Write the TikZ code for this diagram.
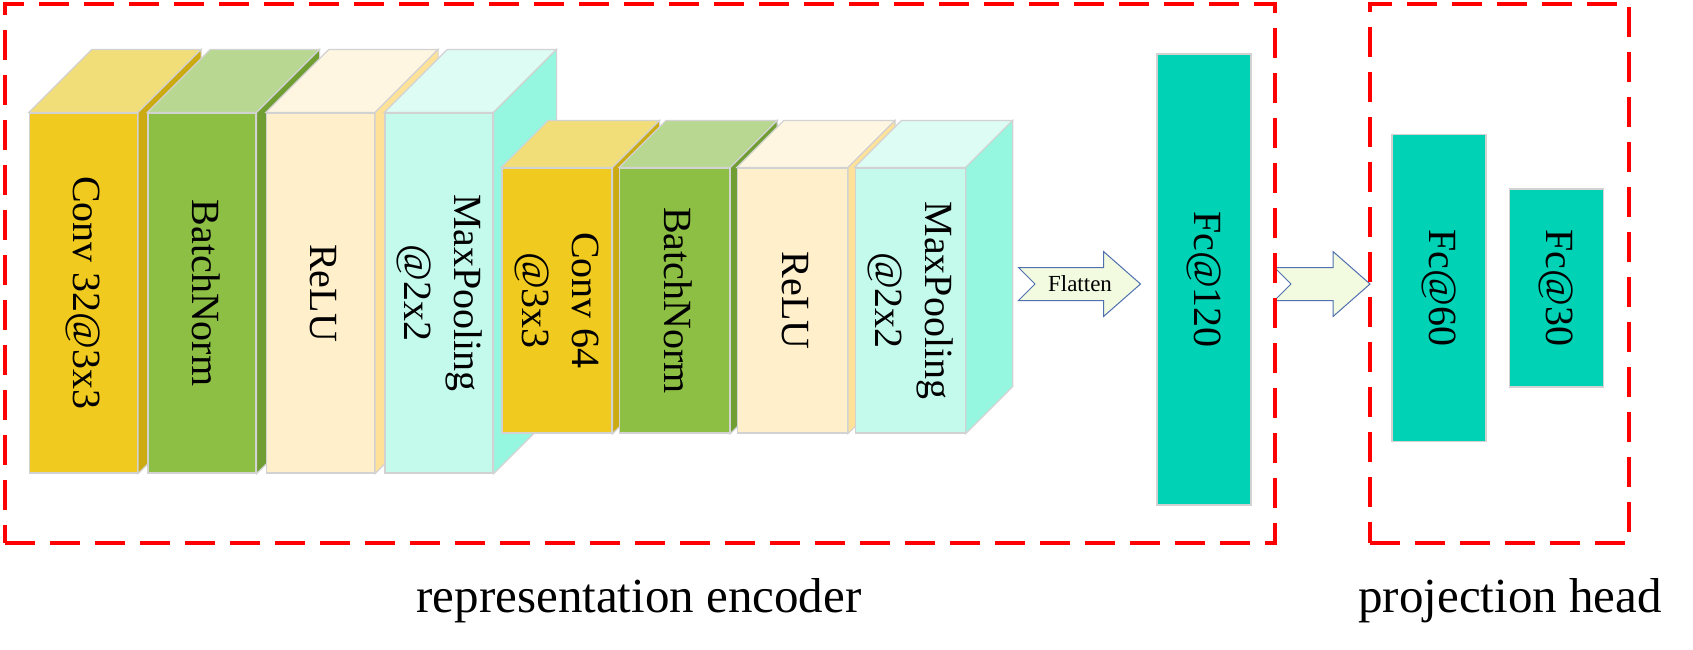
\documentclass[tikz,border=0pt]{standalone}
\usepackage{fontspec}
\setmainfont{Liberation Serif}
\usepackage{tikz}
\usetikzlibrary{arrows}

\definecolor{convfront}{HTML}{F0CA1F}
\definecolor{convtop}{HTML}{F2DE78}
\definecolor{convside}{HTML}{CCAA12}
\definecolor{bnfront}{HTML}{8DBF44}
\definecolor{bntop}{HTML}{B8D891}
\definecolor{bnside}{HTML}{709E32}
\definecolor{relufront}{HTML}{FFEFCA}
\definecolor{relutop}{HTML}{FFF6E2}
\definecolor{reluside}{HTML}{FFE198}
\definecolor{poolfront}{HTML}{C4FAEC}
\definecolor{pooltop}{HTML}{DDFCF3}
\definecolor{poolside}{HTML}{95F7E0}
\definecolor{fcteal}{HTML}{00D2B6}
\definecolor{arrowfill}{HTML}{F2FBE0}
\definecolor{arrowline}{HTML}{4F6FAF}
\definecolor{edgegray}{HTML}{D2D2D2}

\tikzset{line join=miter}

\newcommand{\vtext}[1]{\rotatebox{-90}{\begin{tabular}{@{}c@{}}#1\end{tabular}}}
\newcommand{\blockfaces}[4]{%
  \filldraw[face,fill=#3] (#1.north west) -- ++(#2,-#2)
      -- ([shift={(#2,-#2)}]#1.north east) -- (#1.north east) -- cycle;
  \filldraw[face,fill=#4] (#1.north east) -- ++(#2,-#2)
      -- ([shift={(#2,-#2)}]#1.south east) -- (#1.south east) -- cycle;}
\newcommand{\flatarrow}[2]{%
  \filldraw[bigarrow] (#1) -- ++(-16.5,-16.5) -- ++(#2,0) -- ++(0,-16)
      -- ++(37,32.5) -- ++(-37,32.5) -- ++(0,-16) -- ++(-#2,0) -- cycle;}

\begin{document}
\begin{tikzpicture}[x=1pt,y=-1pt,node distance=118.5pt]
  \tikzstyle{layer}=[rectangle,draw=edgegray,line width=1.2pt,inner sep=0pt,
                     minimum width=108pt,minimum height=360pt,
                     font=\fontsize{40}{50}\selectfont]
  \tikzstyle{thin layer}=[layer,minimum width=110pt,minimum height=265pt]
  \tikzstyle{face}=[draw=edgegray,line width=1.2pt]
  \tikzstyle{fc}=[layer,fill=fcteal,minimum width=94pt]
  \tikzstyle{bigarrow}=[draw=arrowline,fill=arrowfill,line width=1pt]
  \tikzstyle{region}=[draw=red,line width=3.5pt,dash pattern=on 30pt off 15pt]
  \tikzstyle{caption}=[font=\fontsize{49}{59}\selectfont,anchor=base]

  \useasboundingbox (0,0) rectangle (1693,649);

  \node[layer,fill=convfront] (conv1) at (83.5,293) {\vtext{Conv 32@3x3}};
  \blockfaces{conv1}{63}{convtop}{convside}
  \node[layer,fill=bnfront]   (bn1)   [right of=conv1] {\vtext{BatchNorm}};
  \blockfaces{bn1}{63}{bntop}{bnside}
  \node[layer,fill=relufront] (relu1) [right of=bn1]   {\vtext{ReLU}};
  \blockfaces{relu1}{63}{relutop}{reluside}
  \node[layer,fill=poolfront] (pool1) [right of=relu1] {\vtext{MaxPooling\\@2x2}};
  \blockfaces{pool1}{63}{pooltop}{poolside}

  \node[thin layer,fill=convfront] (conv2) at (557,300.5) {\vtext{Conv 64\\@3x3}};
  \blockfaces{conv2}{47}{convtop}{convside}
  \node[thin layer,fill=bnfront]   (bn2)   [right of=conv2,node distance=117.7pt] {\vtext{BatchNorm}};
  \blockfaces{bn2}{47}{bntop}{bnside}
  \node[thin layer,fill=relufront] (relu2) [right of=bn2,node distance=117.7pt]   {\vtext{ReLU}};
  \blockfaces{relu2}{47}{relutop}{reluside}
  \node[thin layer,fill=poolfront] (pool2) [right of=relu2,node distance=117.7pt] {\vtext{MaxPooling\\@2x2}};
  \blockfaces{pool2}{47}{pooltop}{poolside}

  \coordinate (flat) at (1035,284);
  \flatarrow{flat}{85}
  \node[font=\fontsize{23}{28}\selectfont] (flattxt) at (1080,284) {Flatten};

  \node[fc,minimum height=451pt] (fc120) at (1204,279.5) {\vtext{Fc@120}};

  \coordinate (proj) at (1291,284);
  \flatarrow{proj}{58.5}

  \node[fc,minimum height=307pt] (fc60) at (1439,288) {\vtext{Fc@60}};
  \node[fc,minimum height=198pt] (fc30) [right of=fc60,node distance=117.5pt] {\vtext{Fc@30}};

  \node[region,minimum width=1270pt,minimum height=539pt] (encoder) at (640,273.5) {};
  \node[region,minimum width=259pt,minimum height=539pt]  (head)    at (1499.5,273.5) {};

  \node[caption] (enclbl)  at (639,612)  {representation encoder};
  \node[caption] (headlbl) at (1510,612) {projection head};
\end{tikzpicture}
\end{document}
